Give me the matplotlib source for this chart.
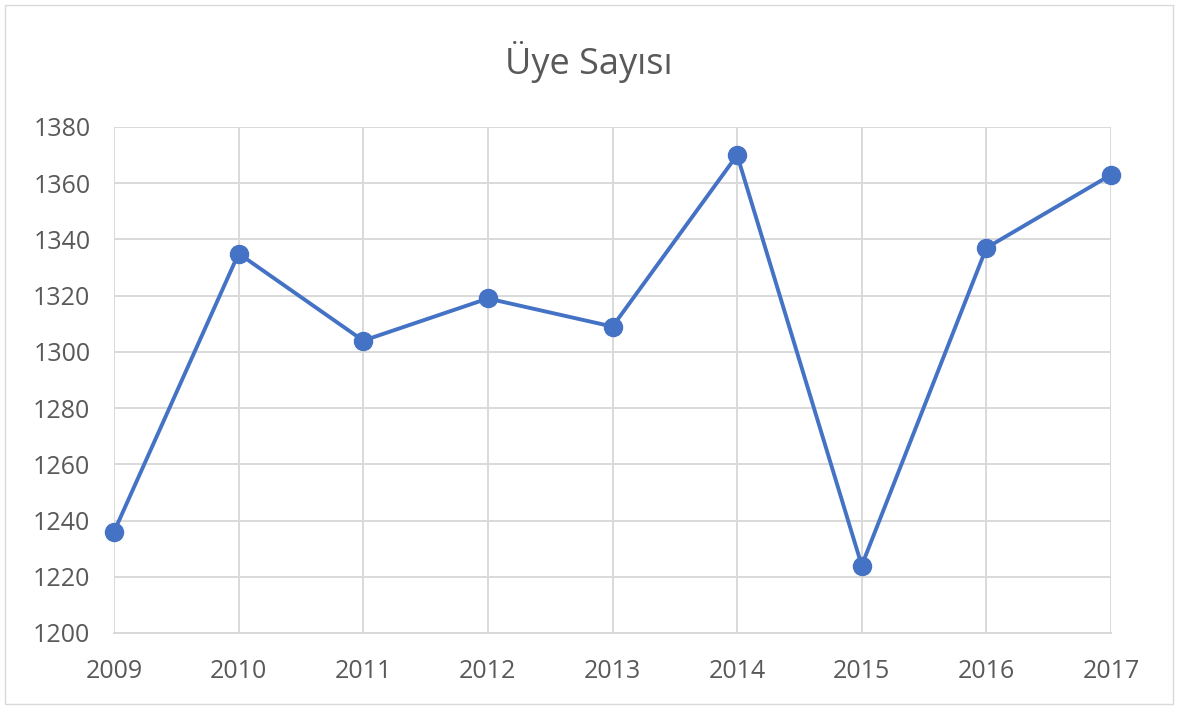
import matplotlib
matplotlib.use("Agg")
import matplotlib.pyplot as plt
from matplotlib.patches import Rectangle

years = [2009, 2010, 2011, 2012, 2013, 2014, 2015, 2016, 2017]
values = [1236, 1335, 1304, 1319, 1309, 1370, 1224, 1337, 1363]
yticks = [1200, 1220, 1240, 1260, 1280, 1300, 1320, 1340, 1360, 1380]
title = "Üye Sayısı"

plt.rcParams['font.family'] = ['Open Sans', 'DejaVu Sans']

W, H = 1178, 709
fig = plt.figure(figsize=(W/100, H/100), dpi=100)
fig.patches.append(Rectangle((5/W, 5/H), 1 - 10/W, 1 - 10/H, transform=fig.transFigure,
                             fill=False, edgecolor='#d9d9d9', linewidth=1))

ax = fig.add_axes([114/W, 1 - 633/H, (1111-114)/W, (633-127)/H])
ax.plot(years, values, color='#4472C4', linewidth=2.8, marker='o', markersize=13,
        markerfacecolor='#4472C4', markeredgecolor='#4472C4', zorder=3, clip_on=False)
ax.set_xlim(2009, 2017)
ax.set_ylim(1200, 1380)
ax.set_xticks(years)
ax.set_xticklabels([str(y) for y in years])
ax.set_yticks(yticks)
ax.grid(True, color='#d9d9d9', linewidth=1.4)
ax.set_axisbelow(True)
for s in ['top', 'right', 'left']:
    ax.spines[s].set_visible(False)
ax.spines['bottom'].set_color('#d9d9d9')
ax.spines['bottom'].set_linewidth(1.4)
ax.tick_params(length=0, labelsize=18, colors='#595959')
ax.tick_params(axis='x', pad=19)
ax.tick_params(axis='y', pad=17)
fig.text(0.5, 1 - 62/H, title, ha='center', va='center', fontsize=26, color='#595959')

fig.savefig('out.png', dpi=100)
